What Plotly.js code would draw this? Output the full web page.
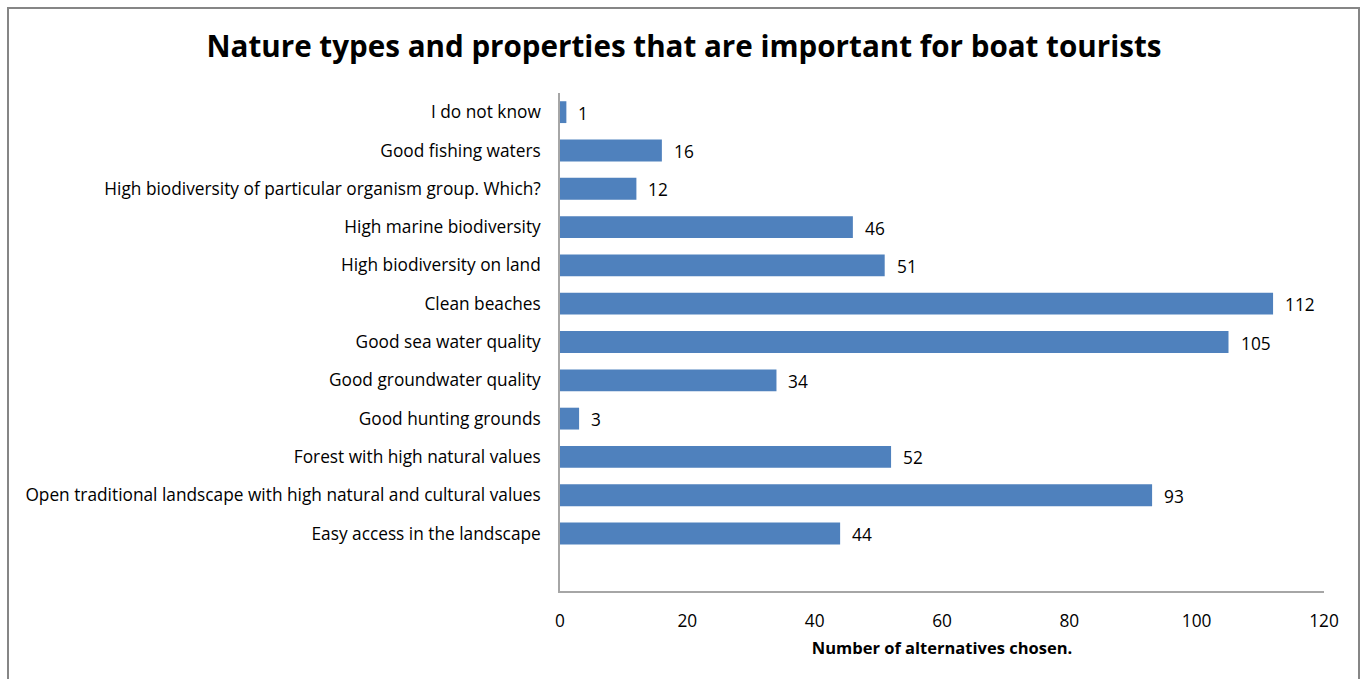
<!DOCTYPE html>
<html>
<head>
<meta charset="utf-8">
<script src="https://cdn.plot.ly/plotly-3.0.1.min.js"></script>
<style>
html,body{margin:0;padding:0;background:#fff;}
#chart{width:1365px;height:679px;}
</style>
</head>
<body>
<div id="chart"></div>
<script>
// Categories listed bottom-to-top
const categories = [
  "Easy access in the landscape",
  "Open traditional landscape with high natural and cultural values",
  "Forest with high natural values",
  "Good hunting grounds",
  "Good groundwater quality",
  "Good sea water quality",
  "Clean beaches",
  "High biodiversity on land",
  "High marine biodiversity",
  "High biodiversity of particular organism group. Which?",
  "Good fishing waters",
  "I do not know"
];
const values = [44, 93, 52, 3, 34, 105, 112, 51, 46, 12, 16, 1];
const xTicks = [0, 20, 40, 60, 80, 100, 120];

const W = 1365, H = 679;
const L = 560, R = 41, T = 93, B = 88;
const pw = W - L - R, ph = H - T - B;
const px = v => (v - L) / pw;
const py = v => (H - B - v) / ph;

const font = "Open Sans, Liberation Sans, sans-serif";
const lblSize = 17.3;

const trace = {
  type: 'bar',
  orientation: 'h',
  x: values,
  y: categories,
  marker: {color: '#4F81BD', line: {width: 0}},
  hoverinfo: 'x+y'
};

const labelAnnotations = values.map((v, i) => ({
  x: v, y: categories[i], xref: 'x', yref: 'y',
  text: String(v), showarrow: false,
  xanchor: 'left', yanchor: 'middle', xshift: 10, yshift: -1,
  font: {family: font, size: lblSize, color: '#000'}
}));

const layout = {
  width: W, height: H,
  margin: {l: L, r: R, t: T, b: B, pad: 0},
  paper_bgcolor: '#fff',
  plot_bgcolor: '#fff',
  showlegend: false,
  bargap: 0.43,
  title: {
    text: 'Nature types and properties that are important for boat tourists',
    font: {family: font, size: 29.6, color: '#000', weight: 'bold'},
    x: 684 / W, xanchor: 'center', xref: 'container',
    y: (H - 47) / H, yanchor: 'middle', yref: 'container'
  },
  xaxis: {
    range: [0, 120],
    tickvals: xTicks,
    ticktext: xTicks.map(String),
    showgrid: false,
    zeroline: false,
    showline: true,
    linecolor: '#a6a6a6',
    linewidth: 1.5,
    ticks: '',
    ticklabelstandoff: 13,
    tickfont: {family: font, size: lblSize, color: '#000'},
    title: {
      text: 'Number of alternatives chosen.',
      font: {family: font, size: 16.5, color: '#000', weight: 'bold'},
      standoff: 12
    },
    fixedrange: true
  },
  yaxis: {
    type: 'category',
    categoryorder: 'array',
    categoryarray: categories,
    range: [-1.5, categories.length - 0.5],
    showgrid: false,
    zeroline: false,
    showline: true,
    linecolor: '#a6a6a6',
    linewidth: 1.5,
    ticks: '',
    ticklabelstandoff: 14,
    tickfont: {family: font, size: lblSize, color: '#000'},
    fixedrange: true
  },
  annotations: labelAnnotations,
  shapes: [{
    type: 'rect', xref: 'paper', yref: 'paper',
    x0: px(8), x1: px(1359), y0: py(8), y1: py(700),
    line: {color: '#868686', width: 2}, fillcolor: 'rgba(0,0,0,0)'
  }]
};

Plotly.newPlot('chart', [trace], layout, {displayModeBar: false});
</script>
</body>
</html>
